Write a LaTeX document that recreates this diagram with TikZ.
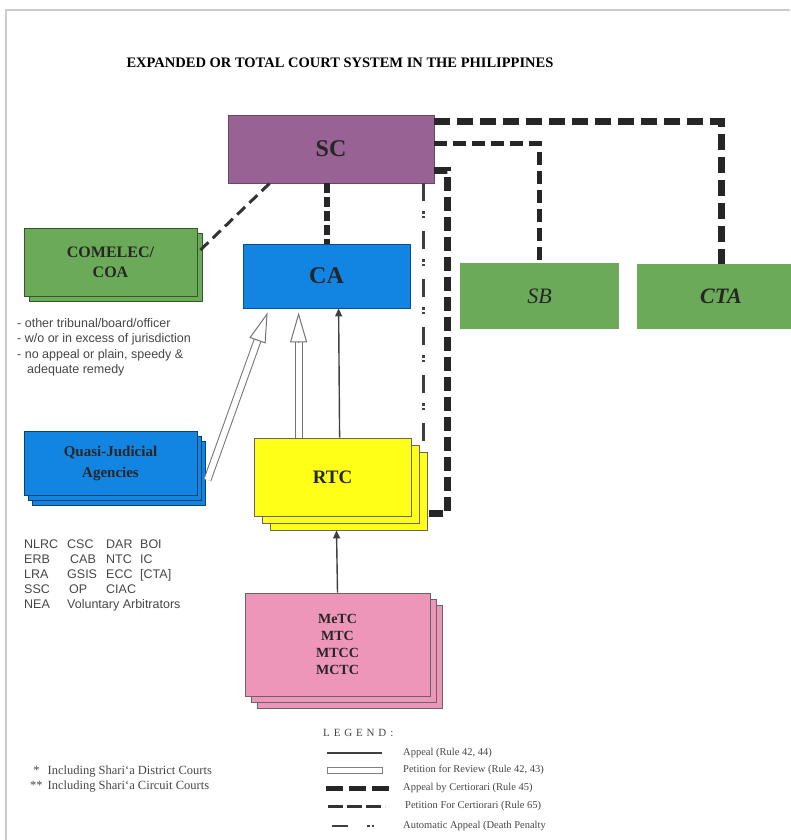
\documentclass[tikz,border=0pt]{standalone}
\usepackage{fontspec}
\setmainfont{Liberation Serif}
\setsansfont{Liberation Sans}
\usetikzlibrary{shadows}
\usetikzlibrary{arrows.meta}
\usetikzlibrary{calc}

\definecolor{scpurple}{RGB}{152,98,148}
\definecolor{cablue}{RGB}{18,132,226}
\definecolor{courtgreen}{RGB}{106,170,88}
\definecolor{rtcyellow}{RGB}{255,255,24}
\definecolor{mtcpink}{RGB}{238,150,186}
\definecolor{framegray}{RGB}{204,204,204}
\definecolor{notegray}{RGB}{70,70,70}

\tikzset{
	court/.style={draw=black!70, line width=0.8pt, text=black!85, align=center, inner sep=0pt},
	certappeal/.style={draw=black!85, line width=7pt, dash pattern=on 16pt off 7pt},
	certpetition/.style={draw=black!80, line width=3pt, dash pattern=on 11pt off 6pt},
	autoappeal/.style={draw=black!75, line width=2.4pt, dash pattern=on 18pt off 10pt on 2.5pt off 2pt on 2.5pt off 13pt},
	appealarrow/.style={draw=black!75, line width=1.4pt, -{Triangle[length=8pt,width=7pt]}},
	reviewshaft/.style={draw=black!55, line width=1pt, double=white, double distance=6pt},
	reviewhead/.style={draw=black!55, line width=1pt, -{Triangle[fill=white,length=30pt,width=17pt]}},
	note/.style={text=notegray, align=left, inner sep=0pt}
}

\begin{document}
\begin{tikzpicture}[x=1pt, y=-1pt]
	\useasboundingbox (0,0) rectangle (790,840);
	\draw [framegray, line width=1.5pt] (6,840) -- (6,10) -- (790,10);
	\node [font=\bfseries\fontsize{14.5}{17}\selectfont] (title) at (340,63) {EXPANDED OR TOTAL COURT SYSTEM IN THE PHILIPPINES};

	% courts
	\node [court, fill=scpurple, draw=scpurple!70!black, minimum width=206pt, minimum height=68pt, font=\bfseries\fontsize{24}{28}\selectfont] (sc) at (331,149) {SC};
	\node [court, fill=cablue, draw=cablue!60!black, minimum width=167pt, minimum height=64pt, font=\bfseries\fontsize{24}{28}\selectfont] (ca) at (326.5,276) {CA};
	\node [court, fill=courtgreen, draw=courtgreen!50!black, minimum width=173pt, minimum height=68pt, font=\bfseries\fontsize{16}{20}\selectfont, copy shadow={shadow xshift=5pt, shadow yshift=-5pt}] (comelec) at (110.5,262) {COMELEC/\\COA};
	\node [court, fill=courtgreen, draw=none, minimum width=159pt, minimum height=66pt, font=\itshape\fontsize{22}{26}\selectfont] (sb) at (539.5,296) {SB};
	\node [court, fill=courtgreen, draw=none, minimum width=168pt, minimum height=65pt, font=\bfseries\itshape\fontsize{22}{26}\selectfont] (cta) at (721,296.5) {CTA};
	\node [court, fill=cablue, draw=cablue!50!black, minimum width=173pt, minimum height=64pt, font=\bfseries\fontsize{15}{21}\selectfont, double copy shadow={shadow xshift=4pt, shadow yshift=-5pt}] (quasi) at (110.5,463) {Quasi-Judicial\\Agencies};
	\node [court, fill=rtcyellow, draw=black!60, minimum width=157pt, minimum height=78pt, font=\bfseries\fontsize{19}{22}\selectfont, double copy shadow={shadow xshift=8pt, shadow yshift=-7pt}] (rtc) at (332.5,477) {RTC};
	\node [court, fill=mtcpink, draw=black!60, minimum width=185pt, minimum height=103pt, font=\bfseries\fontsize{14}{17}\selectfont, double copy shadow={shadow xshift=6pt, shadow yshift=-6pt}] (metc) at (337.5,644.5) {MeTC\\MTC\\MTCC\\MCTC};

	% connectors
	\draw [certappeal] ([yshift=27pt]sc.east) -| (cta.north);
	\draw [certappeal, line width=5pt, dash pattern=on 13pt off 6pt] ([yshift=6pt]sc.east) -| (sb.north);
	\draw [certappeal, dash pattern=on 14pt off 6pt] ([yshift=-21pt]sc.east) -- ++(13,0) |- ([xshift=17pt,yshift=-36pt]rtc.east);
	\draw [certappeal, line width=6pt, dash pattern=on 10pt off 4pt] (ca.north |- sc.south) -- (ca.north);
	\draw [certpetition] ([xshift=42pt]sc.south west) -- ([xshift=3pt,yshift=12pt]comelec.east);
	\draw [autoappeal] ([xshift=-11pt]sc.south east) -- ([xshift=12pt,yshift=-8pt]rtc.north east);
	\coordinate (quasistart) at ([xshift=10pt,yshift=-17pt]quasi.east);
	\coordinate (quasitip) at ([xshift=25pt,yshift=-4pt]ca.south west);
	\coordinate (rtcstart) at ([xshift=45pt]rtc.north west);
	\coordinate (rtctip) at ([xshift=56pt,yshift=-4pt]ca.south west);
	\draw [reviewshaft, shorten >=28pt] (quasistart) -- (quasitip);
	\draw [reviewhead] ($(quasitip)!30pt!(quasistart)$) -- (quasitip);
	\draw [reviewshaft, shorten >=28pt] (rtcstart) -- (rtctip);
	\draw [reviewhead] ($(rtctip)!30pt!(rtcstart)$) -- (rtctip);
	\draw [appealarrow] ([xshift=86pt]rtc.north west) -- ([xshift=96pt]ca.south west);
	\draw [appealarrow] (metc.north) -- ([xshift=4pt,yshift=-14pt]rtc.south);

	% notes
	\node [note, anchor=north west, font=\sffamily\fontsize{12.5}{15.5}\selectfont] (ruleslist) at (17,318) {- other tribunal/board/officer\\- w/o or in excess of jurisdiction\\- no appeal or plain, speedy \&\\\hspace*{10pt}adequate remedy};
	\node [note, anchor=north west, font=\sffamily\fontsize{12.5}{15}\selectfont] (agencylist) at (24,538) {%
		\begin{tabular}{@{}p{43pt}@{}p{39pt}@{}p{34pt}@{}l@{}}
		NLRC & CSC & DAR & BOI\\
		ERB & \hspace*{3pt}CAB & NTC & IC\\
		LRA & GSIS & ECC & [CTA]\\
		SSC & \hspace*{2pt}OP & CIAC & \\
		NEA & \multicolumn{3}{@{}l@{}}{Voluntary Arbitrators}
		\end{tabular}};
	\node [note, anchor=north west, font=\fontsize{12.5}{15}\selectfont] (footnotes) at (30,764) {%
		\begin{tabular}{@{}c@{\hspace{5pt}}l@{}}
		{*} & Including Shari`a District Courts\\
		{**} & Including Shari`a Circuit Courts
		\end{tabular}};

	% legend
	\node [note, anchor=west, font=\fontsize{11}{13}\selectfont\addfontfeature{LetterSpace=35}] (legend) at (323,733) {LEGEND:};
	\draw [draw=black!75, line width=2.5pt] (327,753) -- (382,753);
	\draw [draw=black!50, line width=0.8pt, fill=white] (327,767) rectangle (382,773);
	\draw [draw=black!85, line width=5pt, dash pattern=on 17pt off 6pt] (326,788) -- (392,788);
	\draw [draw=black!80, line width=3pt, dash pattern=on 15pt off 4pt] (328,806) -- (385,806);
	\draw [draw=black!75, line width=2.2pt, dash pattern=on 16pt off 19pt on 2.5pt off 2pt on 2.5pt off 20pt] (332,826) -- (375,826);
	\node [note, anchor=west, font=\fontsize{10.5}{12}\selectfont] (lappeal) at (403,753) {Appeal (Rule 42, 44)};
	\node [note, anchor=west, font=\fontsize{10.5}{12}\selectfont] (lreview) at (403,770) {Petition for Review (Rule 42, 43)};
	\node [note, anchor=west, font=\fontsize{10.5}{12}\selectfont] (lcertappeal) at (403,788) {Appeal by Certiorari (Rule 45)};
	\node [note, anchor=west, font=\fontsize{10.5}{12}\selectfont] (lcertpetition) at (405,806) {Petition For Certiorari (Rule 65)};
	\node [note, anchor=west, font=\fontsize{10.5}{12}\selectfont] (lauto) at (403,826) {Automatic Appeal (Death Penalty};
\end{tikzpicture}
\end{document}
